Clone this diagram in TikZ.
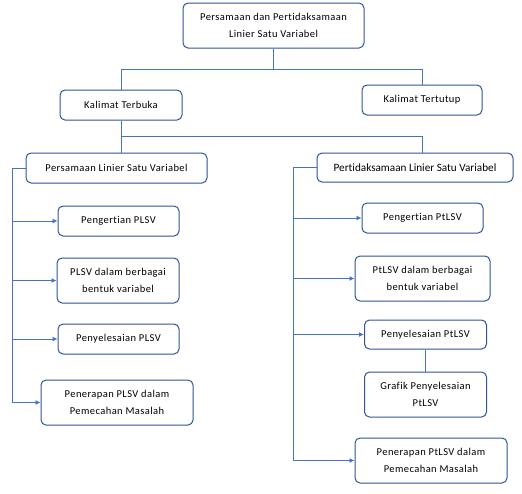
\documentclass[tikz,border=0pt]{standalone}
\usepackage{fontspec}
\setmainfont{Carlito}[Ligatures=NoCommon,LetterSpace=4]
\newfontfamily\widetitle{Carlito}[Ligatures=NoCommon]
\usetikzlibrary{arrows.meta,positioning}
\definecolor{boxline}{HTML}{2F5597}
\definecolor{wire}{HTML}{4472C4}
\tikzset{
  mapbox/.style={draw=boxline,fill=white,line width=1pt,rounded corners=5pt,
                 align=center,font=\fontsize{10.5}{17}\selectfont,inner sep=2pt},
  linkline/.style={draw=wire,line width=0.9pt},
  linkarr/.style={linkline,-{Latex[length=5pt,width=5pt]}}
}

\begin{document}
\begin{tikzpicture}[x=1pt,y=-1pt]
  \useasboundingbox (0,0) rectangle (522,493);
  % upper levels
  \node[mapbox,minimum width=181,minimum height=45] (root) at (273.5,25.5)
    {Persamaan dan Pertidaksamaan\\Linier Satu Variabel};
  \node[mapbox,minimum width=122,minimum height=30] (terbuka) at (121,105) {Kalimat Terbuka};
  \node[mapbox,minimum width=120,minimum height=30] (tertutup) at (422,100) {Kalimat Tertutup};
  \node[mapbox,minimum width=181,minimum height=30] (plsv) at (116.5,168) {Persamaan Linier Satu Variabel};
  \node[mapbox,minimum width=196,minimum height=29,font=\widetitle\fontsize{11.2}{17}\selectfont] (ptlsv) at (415,167.5)
    {Pertidaksamaan Linier Satu Variabel};

  % left branch
  \node[mapbox,minimum width=121,minimum height=30] (lp1) at (118.5,221) {Pengertian PLSV};
  \node[mapbox,minimum width=122,minimum height=45] (lp2) at (118,280.5) {PLSV dalam berbagai\\bentuk variabel};
  \node[mapbox,minimum width=121,minimum height=30] (lp3) at (118.5,339) {Penyelesaian PLSV};
  \node[mapbox,minimum width=152,minimum height=45] (lp4) at (117,402.5) {Penerapan PLSV dalam\\Pemecahan Masalah};

  % right branch
  \node[mapbox,minimum width=121,minimum height=30] (rp1) at (422.5,218) {Pengertian PtLSV};
  \node[mapbox,minimum width=135,minimum height=45] (rp2) at (422.5,278.5) {PtLSV dalam berbagai\\bentuk variabel};
  \node[mapbox,minimum width=122,minimum height=29] (rp3) at (425.5,334.5) {Penyelesaian PtLSV};
  \node[mapbox,minimum width=122,minimum height=45] (rgraf) at (425.5,394.5) {Grafik Penyelesaian\\PtLSV};
  \node[mapbox,minimum width=152,minimum height=45] (rp4) at (431,460.5) {Penerapan PtLSV dalam\\Pemecahan Masalah};

  % connectors
  \coordinate (split1) at ([yshift=-21pt]root.south);
  \draw[linkline] (root.south) -- (split1);
  \draw[linkline] (terbuka.north) |- (split1);
  \draw[linkline] (tertutup.north) |- (split1);

  \coordinate (split2) at ([yshift=-16pt]terbuka.south);
  \draw[linkline] (terbuka.south) -- (split2);
  \draw[linkline] (split2 |- plsv.north) -- (split2) -| ([xshift=7pt]ptlsv.north);

  \coordinate (ltrunk) at (12,0);
  \coordinate (rtrunk) at (293,0);
  \draw[linkline] (plsv.west) -| (ltrunk |- lp4.west);
  \draw[linkline] (ptlsv.west) -| (rtrunk |- rp4.west);
  \foreach \n in {lp1,lp2,lp3,lp4} {
    \draw[linkarr] (ltrunk |- \n.west) -- (\n.west);
  }
  \foreach \n in {rp1,rp2,rp3,rp4} {
    \draw[linkarr] (rtrunk |- \n.west) -- (\n.west);
  }
  \draw[linkline] (rp3.south) -- (rgraf.north);
\end{tikzpicture}
\end{document}
